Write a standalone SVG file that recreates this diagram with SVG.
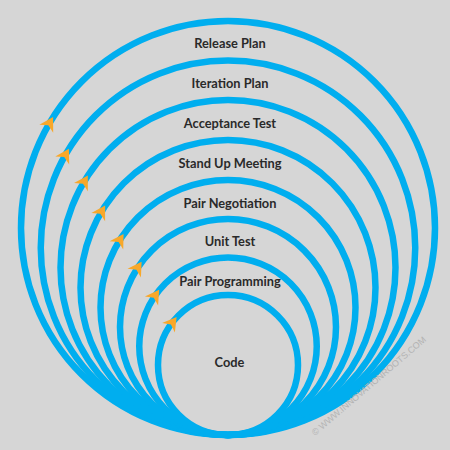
<svg xmlns="http://www.w3.org/2000/svg" width="450" height="450" viewBox="0 0 450 450">
  <defs>
    <style>
      .ring { fill: none; stroke: #00aeef; stroke-width: 6.5; }
      .lbl { font-family: Lato, "Open Sans", "Liberation Sans", sans-serif; font-weight: 700; font-size: 12.8px; fill: #2a2a2a; text-anchor: middle; }
      .arr { fill: #f8a82a; }
      .wm { font-family: "Liberation Sans", Arial, sans-serif; font-size: 9px; fill: #b3b3b3; }
    </style>
    <path id="chev" d="M7.5,0 L-6,-8 L-2,0 L-6,8 Z"/>
  </defs>
  <rect width="450" height="450" fill="#d6d6d6"/>

  <g id="release-plan">
    <circle class="ring" cx="228" cy="228" r="207"/>
    <text class="lbl" x="230" y="47.5">Release Plan</text>
  </g>
  <g id="iteration-plan">
    <circle class="ring" cx="228" cy="247.75" r="187.25"/>
    <text class="lbl" x="230" y="87.5">Iteration Plan</text>
  </g>
  <g id="acceptance-test">
    <circle class="ring" cx="228" cy="267.5" r="167.5"/>
    <text class="lbl" x="230" y="127.5">Acceptance Test</text>
  </g>
  <g id="stand-up-meeting">
    <circle class="ring" cx="228" cy="287.5" r="147.5"/>
    <text class="lbl" x="230" y="167.5">Stand Up Meeting</text>
  </g>
  <g id="pair-negotiation">
    <circle class="ring" cx="228" cy="307.5" r="127.5"/>
    <text class="lbl" x="230" y="207.5">Pair Negotiation</text>
  </g>
  <g id="unit-test">
    <circle class="ring" cx="228" cy="327" r="108"/>
    <text class="lbl" x="230" y="245.5">Unit Test</text>
  </g>
  <g id="pair-programming">
    <circle class="ring" cx="228" cy="346.25" r="88.75"/>
    <text class="lbl" x="230" y="285.5">Pair Programming</text>
  </g>
  <g id="code">
    <circle class="ring" cx="228" cy="365" r="70"/>
    <text class="lbl" x="229.5" y="366.5">Code</text>
  </g>

  <g id="connectors">
    <use href="#chev" class="arr" transform="translate(49.3,123.6) rotate(-59.7)"/>
    <use href="#chev" class="arr" transform="translate(65.2,155.3) rotate(-60.4)"/>
    <use href="#chev" class="arr" transform="translate(84,182) rotate(-59.3)"/>
    <use href="#chev" class="arr" transform="translate(101.3,212) rotate(-59.2)"/>
    <use href="#chev" class="arr" transform="translate(119.6,240.3) rotate(-58.2)"/>
    <use href="#chev" class="arr" transform="translate(137.5,268) rotate(-56.9)"/>
    <use href="#chev" class="arr" transform="translate(154.9,296) rotate(-55.5)"/>
    <use href="#chev" class="arr" transform="translate(172.1,322.9) rotate(-53)"/>
  </g>

  <text class="wm" transform="translate(315,436) rotate(-40.5)">© WWW.INNOVATIONROOTS.COM</text>
</svg>
